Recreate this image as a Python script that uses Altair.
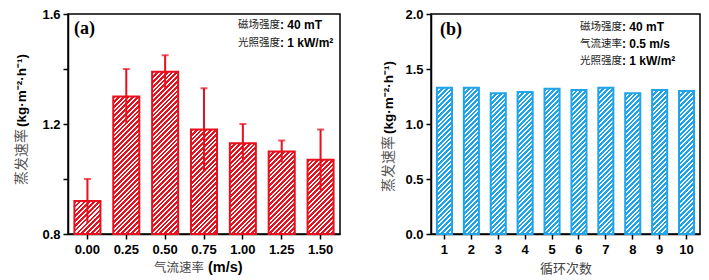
import altair as alt
import pandas as pd

# ---------------- data ----------------
speed_labels = ["0.00", "0.25", "0.50", "0.75", "1.00", "1.25", "1.50"]
rate_a = [0.92, 1.30, 1.39, 1.18, 1.13, 1.10, 1.07]
err_a = [0.08, 0.10, 0.06, 0.15, 0.07, 0.04, 0.11]

cycle_labels = ["1", "2", "3", "4", "5", "6", "7", "8", "9", "10"]
rate_b = [1.33, 1.33, 1.28, 1.29, 1.32, 1.31, 1.33, 1.28, 1.31, 1.30]

ydom_a = [0.8, 1.6]
yticks_a = [0.8, 1.0, 1.2, 1.4, 1.6]
ydom_b = [0.0, 2.0]
yticks_b = [0.0, 0.5, 1.0, 1.5, 2.0]

RED = "#E8101C"
BLUE = "#1FA3EA"
CN = "Noto Sans CJK SC"
EN = "Liberation Sans"
SERIF = "Liberation Serif"

WA, WB, H = 272, 269, 220
PAD_A, PAD_B = 0.33, 0.44

df_a = pd.DataFrame({"speed": speed_labels, "rate": rate_a, "err": err_a})
df_a["idx"] = range(len(df_a))
df_a["base"] = ydom_a[0]
df_a["lo"] = df_a["rate"] - df_a["err"]
df_a["hi"] = df_a["rate"] + df_a["err"]

df_b = pd.DataFrame({"cycle": cycle_labels, "rate": rate_b})
df_b["idx"] = range(len(df_b))


def stripes(w, h, color, period=4.8, frac=0.58):
    """Diagonal '///' hatch as a hard-stop linear gradient in bbox units."""
    s = w + h
    d = w * w + h * h
    x2 = w * s / d
    y2 = h * s / d
    stops = []
    k = 0
    while True:
        a = k * period / s
        b = min((k + frac) * period / s, 1.0)
        c = min((k + 1) * period / s, 1.0)
        stops += [
            alt.GradientStop(offset=a, color=color),
            alt.GradientStop(offset=b, color=color),
            alt.GradientStop(offset=b, color="white"),
            alt.GradientStop(offset=c, color="white"),
        ]
        if c >= 1.0:
            break
        k += 1
    return alt.LinearGradient(gradient="linear", stops=stops, x1=0, y1=0, x2=x2, y2=y2)


def axis_y(values, label_expr=None):
    kw = dict(values=values, title=None, grid=False, tickSize=5, tickWidth=1.5,
              domainWidth=1.5, domainColor="black", tickColor="black",
              labelFont=EN, labelFontWeight="bold", labelFontSize=13,
              labelColor="black", labelPadding=3)
    if label_expr:
        kw["labelExpr"] = label_expr
    else:
        kw["format"] = ".1f"
    return alt.Axis(**kw)


def axis_x():
    return alt.Axis(title=None, labelAngle=0, grid=False, tickSize=5, tickWidth=1.5,
                    domainWidth=1.5, domainColor="black", tickColor="black",
                    labelFont=EN, labelFontWeight="bold", labelFontSize=13,
                    labelColor="black", labelPadding=4)


one = pd.DataFrame({"o": [0]})


def txt(text, x, y, font, size, weight="normal", color="black", align="left", angle=0):
    kw = dict(text=text, font=font, fontSize=size, fontWeight=weight, color=color,
              align=align, baseline="middle")
    if angle:
        kw["angle"] = angle
    return alt.Chart(one).mark_text(**kw).encode(x=alt.value(x), y=alt.value(y))


# ---------------- panel (a) ----------------
xa = alt.X("speed:N", sort=speed_labels, scale=alt.Scale(paddingInner=PAD_A), axis=axis_x())
ya = alt.Y("rate:Q", scale=alt.Scale(domain=ydom_a, zero=False, nice=False),
           axis=axis_y(yticks_a,
                       "abs(datum.value-1.0)<0.01 || abs(datum.value-1.4)<0.01 ? '' : format(datum.value, '.1f')"))

bw_a = WA / len(speed_labels) * (1 - PAD_A)
layers_a = []
for i, v in enumerate(rate_a):
    hpx = (v - ydom_a[0]) / (ydom_a[1] - ydom_a[0]) * H
    layers_a.append(
        alt.Chart(df_a).transform_filter(alt.datum.idx == i)
        .mark_bar(fill=stripes(bw_a, hpx, RED), stroke=RED, strokeWidth=2)
        .encode(x=xa, y=ya, y2="base:Q")
    )

err_rule = alt.Chart(df_a).mark_rule(color=RED, strokeWidth=2).encode(
    x=alt.X("speed:N", sort=speed_labels), y=alt.Y("lo:Q"), y2="hi:Q")
err_cap = alt.Chart(df_a).mark_tick(color=RED, thickness=2, size=7).encode(
    x=alt.X("speed:N", sort=speed_labels), y=alt.Y("hi:Q"))

ann_a = [
    txt("(a)", 6, 15, SERIF, 18, "bold"),
    txt("磁场强度", 170, 11, CN, 10.5, color="#222"),
    txt(": 40 mT", 212, 11, EN, 12, "bold"),
    txt("光照强度", 170, 29, CN, 10.5, color="#222"),
    txt(": 1 kW/m²", 212, 29, EN, 12, "bold"),
    txt("蒸发速率", -46, 171, CN, 14, color="#555", angle=270),
    txt("(kg·m⁻²·h⁻¹)", -46, 113, EN, 13.5, "bold", angle=270),
    txt("气流速率", 86, 254, CN, 12.5, color="#444"),
    txt("(m/s)", 140, 254, EN, 14.5, "bold"),
]

panel_a = alt.layer(*layers_a, err_rule, err_cap, *ann_a).properties(width=WA, height=H)

# ---------------- panel (b) ----------------
xb = alt.X("cycle:N", sort=cycle_labels, scale=alt.Scale(paddingInner=PAD_B), axis=axis_x())
yb = alt.Y("rate:Q", scale=alt.Scale(domain=ydom_b, nice=False), axis=axis_y(yticks_b))

bw_b = WB / len(cycle_labels) * (1 - PAD_B)
layers_b = []
for i, v in enumerate(rate_b):
    hpx = (v - ydom_b[0]) / (ydom_b[1] - ydom_b[0]) * H
    layers_b.append(
        alt.Chart(df_b).transform_filter(alt.datum.idx == i)
        .mark_bar(fill=stripes(bw_b, hpx, BLUE), stroke=BLUE, strokeWidth=2)
        .encode(x=xb, y=yb)
    )

ann_b = [
    txt("(b)", 9, 16, SERIF, 18, "bold"),
    txt("磁场强度", 149, 13, CN, 10.5, color="#222"),
    txt(": 40 mT", 191, 13, EN, 12, "bold"),
    txt("气流速率", 149, 30, CN, 10.5, color="#222"),
    txt(": 0.5 m/s", 191, 30, EN, 12, "bold"),
    txt("光照强度", 149, 47, CN, 10.5, color="#222"),
    txt(": 1 kW/m²", 191, 47, EN, 12, "bold"),
    txt("蒸发速率", -42, 178, CN, 14, color="#555", angle=270),
    txt("(kg·m⁻²·h⁻¹)", -42, 120, EN, 13.5, "bold", angle=270),
    txt("循环次数", 135, 255, CN, 13, color="#444", align="center"),
]

panel_b = alt.layer(*layers_b, *ann_b).properties(width=WB, height=H)

chart = (
    alt.hconcat(panel_a, panel_b, spacing=91, bounds="flush")
    .properties(padding={"left": 14, "top": 7, "right": 0, "bottom": 0}, background="white")
    .configure_view(stroke="black", strokeWidth=1.5)
)

chart.save("out.html", embed_options={"renderer": "svg", "actions": False})
